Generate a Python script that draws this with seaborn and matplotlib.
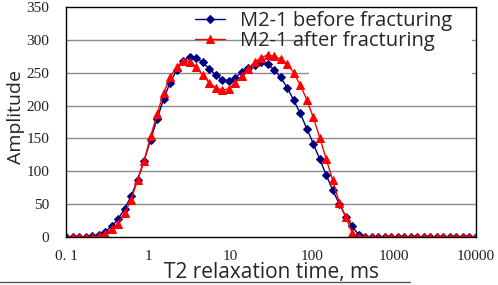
import matplotlib
matplotlib.use("Agg")
import matplotlib.pyplot as plt
import numpy as np
import seaborn as sns
from matplotlib.lines import Line2D
from matplotlib.ticker import MultipleLocator, LogLocator, NullFormatter

# T2 spectrum sampled at 64 log-spaced points from 0.1 to 10000 ms
t2 = np.logspace(-1, 4, 64)
before = [0, 0, 0, 0.5, 1, 3, 8, 16, 27, 43, 62, 87, 116, 148, 180, 210,
          235, 254, 268, 274, 272, 266, 256, 247, 239, 238, 242, 251, 257, 262, 266, 263,
          254, 243, 227, 208, 188, 165, 142, 118, 94, 71, 50, 31, 16, 3, 0, 0,
          0, 0, 0, 0, 0, 0, 0, 0, 0, 0, 0, 0, 0, 0, 0, 0]
after = [0, 0, 0, 0, 0.5, 1, 5, 12, 20, 36, 57, 87, 116, 153, 187, 219,
         243, 259, 268, 267, 259, 246, 235, 227, 224, 225, 235, 245, 256, 266, 273, 277,
         275, 271, 263, 250, 231, 209, 182, 151, 118, 86, 52, 30, 6, 0.5, 0, 0,
         0, 0, 0, 0, 0, 0, 0, 0, 0, 0, 0, 0, 0, 0, 0, 0]
xtick_vals = [0.1, 1, 10, 100, 1000, 10000]
xtick_labels = ["0. 1", "1", "10", "100", "1000", "10000"]

sns.set_style("white")
plt.rcParams["font.family"] = ["Open Sans", "DejaVu Sans"]

fig = plt.figure(figsize=(4.98, 2.85), dpi=100)
ax = fig.add_axes([66 / 498, 1 - 237 / 285, 410 / 498, 230 / 285])

navy = "#00007f"
red = "#ff0000"

# gridlines (the two upper ones are cut off by the legend area)
for yv in [50, 100, 150, 200]:
    ax.axhline(yv, color="#8c8c8c", lw=1, zorder=0)
for yv in [250, 300]:
    ax.axhline(yv, xmax=0.59, color="#8c8c8c", lw=1, zorder=0)
    ax.axhline(yv, xmin=0.99, color="#8c8c8c", lw=1, zorder=0)

sns.lineplot(x=t2, y=before, ax=ax, color=navy, lw=1, marker="D", markersize=4.2,
             markeredgecolor=navy, label="M2-1 before fracturing")
sns.lineplot(x=t2, y=after, ax=ax, color=red, lw=1, marker="^", markersize=6,
             markeredgecolor=red, label="M2-1 after fracturing")

ax.set_xscale("log")
ax.set_xlim(0.1, 10000)
ax.set_ylim(0, 350)
ax.set_xticks(xtick_vals)
ax.set_xticklabels(xtick_labels)
ax.xaxis.set_minor_locator(LogLocator(base=10, subs=np.arange(2, 10)))
ax.xaxis.set_minor_formatter(NullFormatter())
ax.yaxis.set_major_locator(MultipleLocator(50))
ax.yaxis.set_minor_locator(MultipleLocator(10))

for lab in ax.get_xticklabels() + ax.get_yticklabels():
    lab.set_family(["Liberation Serif", "DejaVu Serif"])
    lab.set_fontsize(11)
    lab.set_color("#222222")

ax.tick_params(axis="x", which="major", direction="in", length=4, width=0.8, pad=9)
ax.tick_params(axis="x", which="minor", direction="in", length=3, width=0.6)
ax.tick_params(axis="y", which="major", direction="in", length=0, pad=12)
ax.tick_params(axis="y", which="minor", direction="in", length=2.5, width=0.6)

for sp in ax.spines.values():
    sp.set_color("black")
    sp.set_linewidth(1)

ax.set_xlabel("T2 relaxation time, ms", fontsize=15)
ax.xaxis.label.set_va("baseline")
ax.xaxis.set_label_coords(0.501, -0.178)
ax.set_ylabel("Amplitude", fontsize=14)
ax.yaxis.label.set_va("baseline")
ax.yaxis.set_label_coords(-0.110, 0.52)

ax.legend(loc="upper left", bbox_to_anchor=(0.31, 0.991), frameon=False, fontsize=14.5,
          handlelength=1.5, handletextpad=0.75, labelspacing=0.02, borderpad=0.1,
          borderaxespad=0)

# thin separator line under the axis title
fig.add_artist(Line2D([0, 410 / 498], [1 - 282 / 285, 1 - 282 / 285],
                      color="#555555", lw=1))

plt.savefig("out.png", dpi=100)
